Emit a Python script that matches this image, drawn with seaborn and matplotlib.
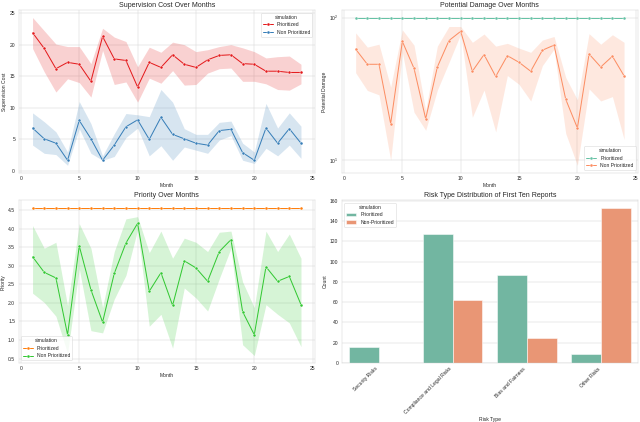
import pandas as pd
import matplotlib
matplotlib.use("Agg")
import matplotlib.pyplot as plt
import seaborn as sns

months = list(range(1, 25))
sim_names = ["Prioritized", "Non Prioritized"]

# Supervision cost (mean, lower band, upper band)
cost_prio = [21.9, 19.4, 16.2, 17.2, 16.9, 14.2, 21.3, 17.75, 17.5, 13.3, 17.2, 16.4,
             18.4, 16.9, 16.4, 17.6, 18.3, 18.4, 17.0, 16.9, 15.8, 15.8, 15.6, 15.6]
cost_prio_lo = [19.4, 15.7, 12.5, 14.6, 14.0, 11.7, 19.1, 13.7, 14.1, 10.9, 14.7, 13.9,
                15.9, 13.6, 13.7, 15.5, 16.2, 16.3, 14.2, 14.2, 13.8, 12.9, 12.8, 13.8]
cost_prio_hi = [24.3, 22.2, 20.1, 19.7, 19.7, 17.0, 22.6, 21.2, 20.5, 16.5, 19.6, 18.8,
                20.4, 20.0, 18.9, 19.2, 19.7, 20.0, 19.5, 18.9, 17.9, 18.1, 18.2, 16.9]
cost_non = [6.8, 5.1, 4.4, 1.7, 8.0, 5.1, 1.7, 4.1, 7.0, 8.1, 5.0, 8.5,
            5.8, 5.1, 4.4, 4.1, 6.4, 6.6, 2.9, 1.7, 6.8, 4.4, 6.7, 4.4]
cost_non_lo = [4.1, 2.8, 2.6, 0.9, 6.7, 2.8, 1.7, 2.3, 5.3, 6.8, 2.4, 4.0,
               1.7, 3.8, 3.3, 2.8, 4.9, 5.6, 1.7, 1.2, 3.6, 2.4, 4.1, 2.0]
cost_non_hi = [9.2, 7.8, 6.2, 3.0, 11.0, 7.5, 2.4, 5.9, 9.1, 8.9, 8.6, 12.9,
               10.9, 6.7, 5.8, 5.8, 7.7, 7.9, 4.4, 3.0, 10.7, 6.8, 9.2, 7.1]

# Potential damage
dmg_prio = [100] * 24
dmg_non = [60, 47, 47, 18, 68, 44, 19.5, 45, 69, 80, 42, 55,
           38.6, 54, 48.5, 42, 59, 64, 26.7, 16.8, 55.5, 45, 53.5, 39]
dmg_non_lo = [41, 30.8, 28.7, 10, 57, 21.7, 16.2, 31, 48.5, 76.6, 20, 31,
              15.8, 39.2, 34, 26, 46, 60, 15.4, 9.2, 31.6, 26, 27.9, 14]
dmg_non_hi = [78, 62, 65, 32.5, 82, 64, 22.3, 63, 86.5, 86.5, 67, 76.6,
              63, 65.9, 61, 57, 69.5, 73.6, 38, 26.5, 77, 65, 75.7, 67]

# Priority
prio_prio = [4.56] * 24
prio_non = [3.24, 2.82, 2.67, 1.14, 3.53, 2.35, 1.48, 2.79, 3.61, 4.14, 2.31, 2.81,
            1.93, 3.13, 2.94, 2.58, 3.38, 3.70, 1.76, 1.14, 2.97, 2.58, 2.71, 1.95]
prio_non_lo = [2.26, 2.01, 1.64, 0.64, 2.92, 1.25, 1.19, 2.10, 2.74, 3.97, 1.37, 1.69,
               0.78, 2.40, 2.13, 1.78, 2.65, 3.47, 0.87, 0.58, 1.95, 1.69, 1.46, 0.82]
prio_non_hi = [4.08, 3.47, 3.63, 1.92, 4.13, 3.47, 1.87, 3.38, 4.26, 4.32, 3.35, 3.93,
               3.20, 3.74, 3.63, 3.38, 3.90, 3.93, 2.56, 1.87, 3.93, 3.38, 3.85, 3.20]

# Risk types
risk_types = ["Security Risks", "Compliance and Legal Risks", "Bias and Fairness", "Other Risks"]
risk_prio = [16, 127, 87, 9]
risk_non = [0, 62, 25, 153]


def line_panel(ax, series, colors, title, ylabel, loc):
    frames = []
    for name, (mean, lo, hi) in zip(sim_names, series):
        frames.append(pd.DataFrame({"Month": months, "value": mean, "simulation": name}))
    df = pd.concat(frames, ignore_index=True)
    sns.lineplot(data=df, x="Month", y="value", hue="simulation", hue_order=sim_names,
                 palette=colors, marker="o", errorbar=None, linewidth=2, ax=ax)
    for (mean, lo, hi), c in zip(series, colors):
        if lo is not None:
            ax.fill_between(months, lo, hi, color=c, alpha=0.2, linewidth=0)
    ax.set_title(title, fontsize=14)
    ax.set_ylabel(ylabel)
    ax.set_xlim(-0.2, 25.2)
    ax.set_xticks([0, 5, 10, 15, 20, 25])
    ax.legend(title="simulation", loc=loc)


sns.set_style("whitegrid")
plt.rcParams["font.family"] = ["Liberation Sans", "DejaVu Sans"]

fig, axes = plt.subplots(2, 2, figsize=(640 / 36, 422 / 36), dpi=36)

line_panel(axes[0, 0],
           [(cost_prio, cost_prio_lo, cost_prio_hi), (cost_non, cost_non_lo, cost_non_hi)],
           ["#e41a1c", "#377eb8"], "Supervision Cost Over Months", "Supervision Cost", "upper right")

line_panel(axes[0, 1],
           [(dmg_prio, None, None), (dmg_non, dmg_non_lo, dmg_non_hi)],
           ["#66c2a5", "#fc8d62"], "Potential Damage Over Months", "Potential Damage", "lower right")
axes[0, 1].set_yscale("log")

line_panel(axes[1, 0],
           [(prio_prio, None, None), (prio_non, prio_non_lo, prio_non_hi)],
           ["#ff7f0e", "#32c832"], "Priority Over Months", "Priority", "lower left")

bars = pd.DataFrame({
    "Risk Type": risk_types * 2,
    "Count": risk_prio + risk_non,
    "simulation": ["Prioritized"] * 4 + ["Non-Prioritized"] * 4,
})
ax = axes[1, 1]
sns.barplot(data=bars, x="Risk Type", y="Count", hue="simulation", palette="Set2", ax=ax)
ax.set_title("Risk Type Distribution of First Ten Reports", fontsize=14)
ax.tick_params(axis="x", rotation=45)
for lbl in ax.get_xticklabels():
    lbl.set_ha("right")
ax.legend(title="simulation", loc="upper left")

fig.subplots_adjust(left=0.029, right=0.997, top=0.976, bottom=0.14, wspace=0.09, hspace=0.17)
plt.savefig("out.png", dpi=36)
